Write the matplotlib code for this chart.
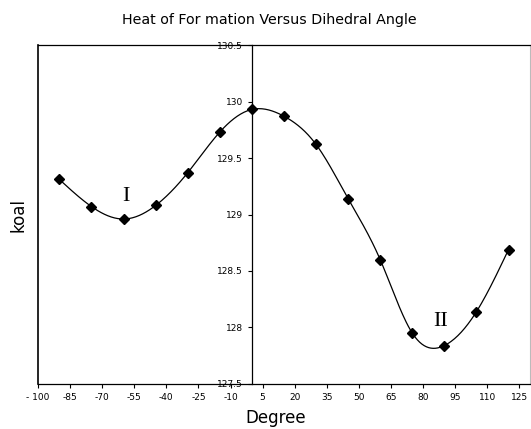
import numpy as np
import matplotlib
matplotlib.use("Agg")
import matplotlib.pyplot as plt

degrees = [-90, -75, -60, -45, -30, -15, 0, 15, 30, 45, 60, 75, 90, 105, 120]
kcal = [129.31, 129.07, 128.96, 129.08, 129.37, 129.73, 129.93, 129.87, 129.62,
        129.14, 128.60, 127.95, 127.84, 128.14, 128.69]
xticks = [-100, -85, -70, -55, -40, -25, -10, 5, 20, 35, 50, 65, 80, 95, 110, 125]
yticks = [127.5, 128, 128.5, 129, 129.5, 130, 130.5]


def natural_spline(x, y, xs):
    x = np.asarray(x, float); y = np.asarray(y, float)
    n = len(x)
    h = np.diff(x)
    A = np.zeros((n, n)); b = np.zeros(n)
    A[0, 0] = 1; A[-1, -1] = 1
    for i in range(1, n - 1):
        A[i, i - 1] = h[i - 1]
        A[i, i] = 2 * (h[i - 1] + h[i])
        A[i, i + 1] = h[i]
        b[i] = 3 * ((y[i + 1] - y[i]) / h[i] - (y[i] - y[i - 1]) / h[i - 1])
    c = np.linalg.solve(A, b)
    out = np.empty_like(xs)
    for k, xv in enumerate(xs):
        i = min(max(np.searchsorted(x, xv) - 1, 0), n - 2)
        dx = xv - x[i]
        bi = (y[i + 1] - y[i]) / h[i] - h[i] * (2 * c[i] + c[i + 1]) / 3
        di = (c[i + 1] - c[i]) / (3 * h[i])
        out[k] = y[i] + bi * dx + c[i] * dx ** 2 + di * dx ** 3
    return out


fig = plt.figure(figsize=(5.31, 4.29), dpi=100)
ax = fig.add_axes([0.0716, 0.105, 0.9264, 0.79])

xs = np.linspace(degrees[0], degrees[-1], 400)
ax.plot(xs, natural_spline(degrees, kcal, xs), color='black', lw=0.9)
ax.plot(degrees, kcal, linestyle='none', marker='D', markersize=5,
        color='black')

ax.set_xlim(-100, 130)
ax.set_ylim(127.5, 130.5)
ax.set_xticks(xticks)
ax.set_xticklabels([str(t).replace('-', '- ') if t == -100 else str(t) for t in xticks])
ax.set_yticks(yticks)
ax.set_yticklabels(['127.5', '128', '128.5', '129', '129.5', '130', '130.5'])
ax.tick_params(axis='both', labelsize=6.5, length=3, width=0.8, direction='out')

ax.spines['left'].set_position(('data', 0))
ax.spines['left'].set_linewidth(0.9)
ax.spines['bottom'].set_linewidth(0.9)
ax.spines['top'].set_linewidth(0.9)
ax.spines['right'].set_color('#bbbbbb')
ax.plot([-100, -100], [127.5, 130.5], color='black', lw=1.2, clip_on=False)

ax.text(-59, 129.16, 'I', family='Liberation Serif', fontsize=16, ha='center', va='center')
ax.text(88, 128.05, 'II', family='Liberation Serif', fontsize=16, ha='center', va='center')

fig.text(0.508, 0.953, 'Heat of For mation Versus Dihedral Angle', ha='center',
         va='center', fontsize=10.3)
fig.text(0.52, 0.025, 'Degree', ha='center', va='center', fontsize=12)
fig.text(0.034, 0.5, 'koal', ha='center', va='center', fontsize=12, rotation=90)

fig.savefig('out.png', dpi=100)
